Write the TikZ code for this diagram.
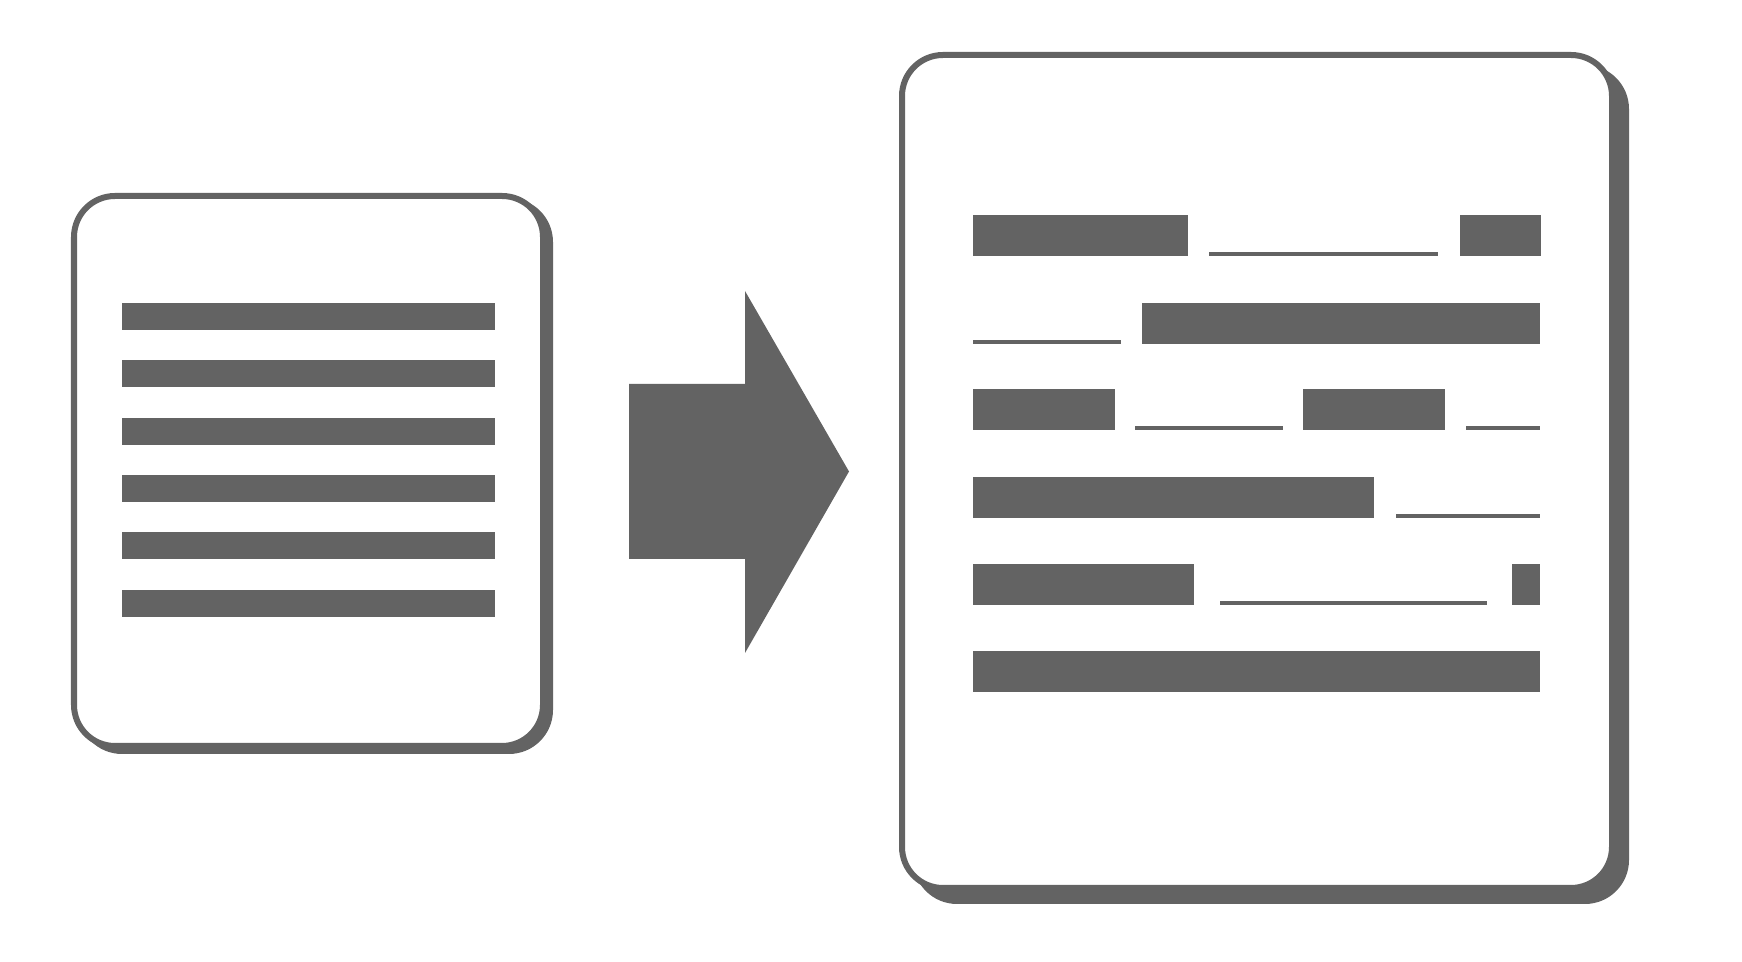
\documentclass[tikz,border=0pt]{standalone}
\usepackage{tikz}
\usetikzlibrary{calc}
\definecolor{docgray}{RGB}{99,99,99}
\tikzstyle{page} = [draw=docgray, line width=0.06cm, fill=white, rounded corners=0.41cm]
\tikzstyle{pageshadow} = [draw=docgray, line width=0.06cm, fill=docgray, rounded corners=0.41cm]
\tikzstyle{bar} = [fill=docgray]
\tikzstyle{rule} = [fill=docgray]

\begin{document}
\begin{tikzpicture}[x=0.01cm, y=-0.01cm]
    \useasboundingbox (0,0) rectangle (1742,962);

    % small page
    \draw [pageshadow, shift={(7,5)}] (74,196) rectangle (543,746);
    \draw [page] (74,196) rectangle (543,746);
    \foreach \y in {303,360,418,475,532,590}
        \fill [bar] (122,\y) rectangle (495,\y+27);

    % arrow
    \fill [docgray] (629,384) -- (745,384) -- (745,291) -- (849,471.5)
        -- (745,653) -- (745,559) -- (629,559) -- cycle;

    % large page
    \draw [pageshadow, shift={(14,13)}] (902,55) rectangle (1612,888);
    \draw [page] (902,55) rectangle (1612,888);
    \foreach \xa/\xb/\y in {973/1188/215, 1460/1541/215, 1142/1540/303,
        973/1115/389, 1303/1445/389, 973/1374/477, 973/1194/564,
        1512/1540/564, 973/1540/651}
        \fill [bar] (\xa,\y) rectangle (\xb,\y+41);
    \foreach \xa/\xb/\y in {1209/1438/215, 973/1121/303, 1135/1283/389,
        1466/1540/389, 1396/1540/477, 1220/1487/564}
        \fill [rule] (\xa,\y+37) rectangle (\xb,\y+41); % thin lines
\end{tikzpicture}
\end{document}
